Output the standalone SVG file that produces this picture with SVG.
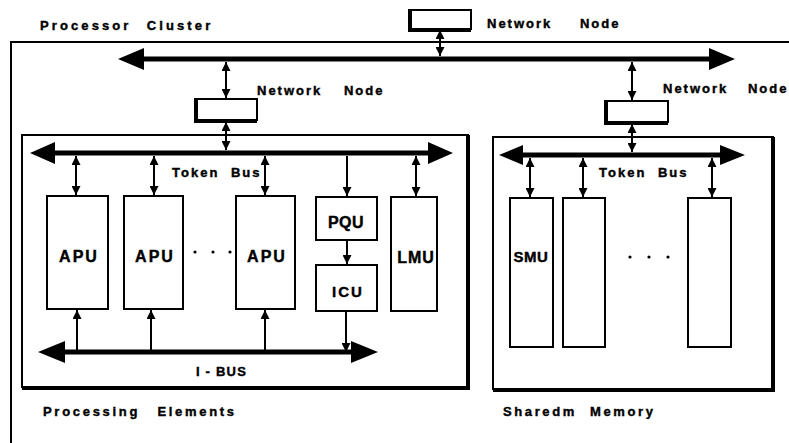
<svg xmlns="http://www.w3.org/2000/svg" width="789" height="443" viewBox="0 0 789 443">
  <style>
    .lbl { font-family: "Liberation Sans", Arial, sans-serif; font-weight: bold; font-size: 13px; letter-spacing: 2px; fill: #000; stroke: #000; stroke-width: 0.4px; }
    .unit { font-family: "Liberation Sans", Arial, sans-serif; font-weight: bold; font-size: 16px; letter-spacing: 2px; fill: #000; stroke: #000; stroke-width: 0.4px; text-anchor: middle; }
    .box { fill: #fff; stroke: #000; stroke-width: 2; }
    .frame { fill: none; stroke: #000; stroke-width: 2; }
    .shadow { fill: none; stroke: #000; stroke-width: 4; }
    .bus { fill: #000; }
    .link { stroke: #000; stroke-width: 2; fill: none; }
  </style>
  <defs>
    <marker id="tip" markerUnits="userSpaceOnUse" markerWidth="9" markerHeight="9" viewBox="0 0 10 10" refX="10" refY="5" orient="auto-start-reverse">
      <path d="M0,0 L10,5 L0,10 z" fill="#000"/>
    </marker>
  </defs>

  <rect width="789" height="443" fill="#fff"/>

  <!-- cluster frame (open to the right and bottom) -->
  <g id="cluster">
    <polyline class="frame" points="11,443 11,42 789,42"/>
    <text class="lbl" x="40" y="30" style="letter-spacing:3.1px; word-spacing:8.6px">Processor Cluster</text>
  </g>

  <!-- buses -->
  <g id="buses">
    <!-- cluster network bus -->
    <polygon class="bus" points="118,59 144,48 144,56.5 709,56.5 709,48 735,59 709,70 709,61.5 144,61.5 144,70"/>
    <!-- processing elements token bus -->
    <polygon class="bus" points="30,153 55,142 55,150.5 428,150.5 428,142 453,153 428,164 428,155.5 55,155.5 55,164"/>
    <!-- shared memory token bus -->
    <polygon class="bus" points="499,155 523,145 523,152.5 720,152.5 720,145 745,155 720,165 720,157.5 523,157.5 523,165"/>
    <!-- I-BUS -->
    <polygon class="bus" points="38,352 65,341 65,349.5 351,349.5 351,341 378,352 351,363 351,354.5 65,354.5 65,363"/>
    <text class="lbl" x="172" y="177" style="word-spacing:6px">Token Bus</text>
    <text class="lbl" x="599" y="177" style="word-spacing:6px">Token Bus</text>
    <text class="lbl" x="196" y="376" style="letter-spacing:1.2px">I - BUS</text>
  </g>

  <!-- network nodes -->
  <g id="net-top">
    <rect class="box" x="409" y="10" width="62" height="19"/>
    <polyline class="shadow" points="410,11 410,30 471,30"/>
    <text class="lbl" x="487" y="28" style="word-spacing:22px">Network Node</text>
  </g>
  <g id="net-pe">
    <rect class="box" x="195" y="99" width="62" height="21"/>
    <polyline class="shadow" points="196,100 196,121 257,121"/>
    <text class="lbl" x="257" y="95" style="word-spacing:16px">Network Node</text>
  </g>
  <g id="net-sm">
    <rect class="box" x="605" y="101" width="63" height="21"/>
    <polyline class="shadow" points="606,102 606,123 668,123"/>
    <text class="lbl" x="663" y="93" style="word-spacing:14px">Network Node</text>
  </g>

  <!-- processing elements -->
  <g id="processing-elements">
    <rect class="frame" x="22" y="135" width="446" height="252"/>
    <polyline class="shadow" points="468,135 468,388 22,388"/>
    <text class="lbl" x="43" y="416" style="letter-spacing:2.7px; word-spacing:11px">Processing Elements</text>
  </g>
  <g id="apu1">
    <rect class="box" x="47" y="196" width="61" height="113"/>
    <text class="unit" x="79" y="262">APU</text>
  </g>
  <g id="apu2">
    <rect class="box" x="124" y="196" width="59" height="113"/>
    <text class="unit" x="155" y="262">APU</text>
  </g>
  <g id="apu-dots">
    <circle cx="195" cy="252" r="1.6"/>
    <circle cx="213" cy="252" r="1.6"/>
    <circle cx="230" cy="252" r="1.6"/>
  </g>
  <g id="apu3">
    <rect class="box" x="236" y="196" width="59" height="113"/>
    <text class="unit" x="267" y="262">APU</text>
  </g>
  <g id="pqu">
    <rect class="box" x="316" y="197" width="61" height="43"/>
    <text class="unit" x="346" y="228" style="letter-spacing:0.5px">PQU</text>
  </g>
  <g id="icu">
    <rect class="box" x="316" y="265" width="61" height="46"/>
    <text class="unit" x="348" y="297" style="font-size:15px">ICU</text>
  </g>
  <g id="lmu">
    <rect class="box" x="391" y="197" width="46" height="114"/>
    <text class="unit" x="416" y="263" style="letter-spacing:1px">LMU</text>
  </g>

  <!-- shared memory -->
  <g id="shared-memory">
    <rect class="frame" x="493" y="137" width="280" height="252"/>
    <polyline class="shadow" points="773,137 773,390 493,390"/>
    <text class="lbl" x="503" y="416" style="letter-spacing:2.6px; word-spacing:7px">Sharedm Memory</text>
  </g>
  <g id="smu1">
    <rect class="box" x="510" y="198" width="43" height="149"/>
    <text class="unit" x="531" y="262" style="font-size:15px; letter-spacing:0.5px">SMU</text>
  </g>
  <g id="smu2">
    <rect class="box" x="563" y="198" width="42" height="149"/>
  </g>
  <g id="smu-dots">
    <circle cx="630" cy="257" r="1.6"/>
    <circle cx="649" cy="257" r="1.6"/>
    <circle cx="668" cy="257" r="1.6"/>
  </g>
  <g id="smu3">
    <rect class="box" x="688" y="198" width="43" height="149"/>
  </g>

  <!-- connectors -->
  <g id="connectors">
    <line class="link" x1="440" y1="30" x2="440" y2="56" marker-start="url(#tip)" marker-end="url(#tip)"/>
    <line class="link" x1="226" y1="62" x2="226" y2="98" marker-start="url(#tip)" marker-end="url(#tip)"/>
    <line class="link" x1="226" y1="122" x2="226" y2="150" marker-start="url(#tip)" marker-end="url(#tip)"/>
    <line class="link" x1="632" y1="62" x2="632" y2="100" marker-start="url(#tip)" marker-end="url(#tip)"/>
    <line class="link" x1="632" y1="124" x2="632" y2="152" marker-start="url(#tip)" marker-end="url(#tip)"/>

    <line class="link" x1="76" y1="156" x2="76" y2="195" marker-start="url(#tip)" marker-end="url(#tip)"/>
    <line class="link" x1="154" y1="156" x2="154" y2="195" marker-start="url(#tip)" marker-end="url(#tip)"/>
    <line class="link" x1="265" y1="156" x2="265" y2="195" marker-start="url(#tip)" marker-end="url(#tip)"/>
    <line class="link" x1="347" y1="156" x2="347" y2="196" marker-end="url(#tip)"/>
    <line class="link" x1="416" y1="156" x2="416" y2="196" marker-start="url(#tip)" marker-end="url(#tip)"/>
    <line class="link" x1="347" y1="241" x2="347" y2="264" marker-end="url(#tip)"/>

    <line class="link" x1="77" y1="350" x2="77" y2="310" marker-end="url(#tip)"/>
    <line class="link" x1="151" y1="350" x2="151" y2="310" marker-end="url(#tip)"/>
    <line class="link" x1="265" y1="350" x2="265" y2="310" marker-end="url(#tip)"/>
    <line class="link" x1="346" y1="312" x2="346" y2="352" marker-end="url(#tip)"/>

    <line class="link" x1="530" y1="158" x2="530" y2="197" marker-start="url(#tip)" marker-end="url(#tip)"/>
    <line class="link" x1="583" y1="158" x2="583" y2="197" marker-start="url(#tip)" marker-end="url(#tip)"/>
    <line class="link" x1="712" y1="158" x2="712" y2="197" marker-start="url(#tip)" marker-end="url(#tip)"/>
  </g>
</svg>
